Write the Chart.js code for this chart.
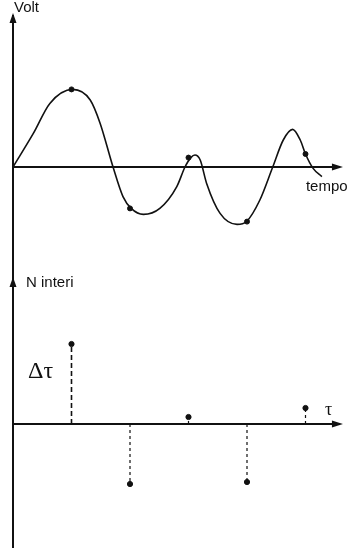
<!DOCTYPE html>
<html>
<head>
<meta charset="utf-8">
<script src="https://cdn.jsdelivr.net/npm/chart.js@4"></script>
<style>
  html, body { margin: 0; padding: 0; background: #fff; }
  #wrap { width: 350px; height: 556px; }
</style>
</head>
<body>
<div id="wrap"><canvas id="segnale" width="350" height="556"></canvas></div>
<script>
// ============================
// Data
// ============================
// continuous signal (tempo, Volt)
const tempo = [0, 0.35, 0.63, 1.02, 1.32, 1.49, 1.71, 1.88, 2.02, 2.23, 2.51, 2.80, 2.94,
               3.04, 3.11, 3.20, 3.31, 3.54, 3.83, 3.99, 4.22, 4.44, 4.62, 4.78, 4.91, 5.00, 5.13, 5.28];
const volt  = [0, 1.69, 3.18, 3.88, 3.35, 2.18, 0, -1.48, -2.07, -2.37, -2.07, -0.98, 0,
               0.47, 0.60, 0.35, -0.82, -2.32, -2.87, -2.73, -1.65, 0, 1.35, 1.88, 1.35, 0.65, -0.07, -0.48];

// sampled points on the curve
const sampleT = [1, 2, 3, 4, 5];
const sampleV = [3.88, -2.07, 0.47, -2.73, 0.65];

// integer counts (stems), same instants
const stemT = [1, 2, 3, 4, 5];
const stemN = [8.0, -6.0, 0.7, -5.8, 1.6];

// axis extents (data units)
const tempoEnd = 5.64;
const voltTop = 7.7;
const nTop = 14.7;
const nBottom = -12.4;

// ============================
// Axes with arrows + labels
// ============================
const axesPlugin = {
  id: "frecce",
  afterDatasetsDraw(chart) {
    const { ctx, scales } = chart;
    const x = scales.x, y = scales.y, y2 = scales.y2;
    const x0 = x.getPixelForValue(0);
    const xEnd = x.getPixelForValue(tempoEnd);
    const yZero = y.getPixelForValue(0);
    const y2Zero = y2.getPixelForValue(0);
    const yTopPx = y.getPixelForValue(voltTop);
    const nTopPx = y2.getPixelForValue(nTop);
    const nBotPx = y2.getPixelForValue(nBottom);

    ctx.save();
    ctx.strokeStyle = "#111";
    ctx.fillStyle = "#111";
    ctx.lineWidth = 2;

    // vertical axis (shared)
    ctx.beginPath();
    ctx.moveTo(x0, yTopPx + 2);
    ctx.lineTo(x0, nBotPx);
    ctx.stroke();

    // horizontal axes
    ctx.beginPath();
    ctx.moveTo(x0, yZero);
    ctx.lineTo(xEnd - 6, yZero);
    ctx.moveTo(x0, y2Zero);
    ctx.lineTo(xEnd - 6, y2Zero);
    ctx.stroke();

    function arrowUp(px, py) {
      ctx.beginPath();
      ctx.moveTo(px, py);
      ctx.lineTo(px - 3.5, py + 10);
      ctx.lineTo(px + 3.5, py + 10);
      ctx.closePath();
      ctx.fill();
    }
    function arrowRight(px, py) {
      ctx.beginPath();
      ctx.moveTo(px, py);
      ctx.lineTo(px - 11, py - 3.5);
      ctx.lineTo(px - 11, py + 3.5);
      ctx.closePath();
      ctx.fill();
    }
    arrowUp(x0, yTopPx);
    arrowUp(x0, nTopPx);
    arrowRight(xEnd, yZero);
    arrowRight(xEnd, y2Zero);

    // labels
    ctx.font = "15px 'Liberation Sans', Arial, sans-serif";
    ctx.textBaseline = "alphabetic";
    ctx.fillText("Volt", x0 + 1, yTopPx - 1);
    ctx.fillText("tempo", xEnd - 37, yZero + 24);
    ctx.fillText("N interi", x0 + 13, nTopPx + 10);

    ctx.font = "24px 'Liberation Serif', 'Times New Roman', serif";
    ctx.fillText("\u0394\u03c4", x0 + 15, y2.getPixelForValue(4.6));
    ctx.font = "18px 'Liberation Serif', 'Times New Roman', serif";
    ctx.fillText("\u03c4", xEnd - 18, y2.getPixelForValue(0.9));
    ctx.restore();
  }
};

// ============================
// Build datasets
// ============================
const datasets = [
  {
    type: "line",
    label: "segnale",
    data: tempo.map((t, i) => ({ x: t, y: volt[i] })),
    borderColor: "#111",
    borderWidth: 1.6,
    cubicInterpolationMode: "monotone",
    pointRadius: 0,
    yAxisID: "y"
  },
  {
    type: "scatter",
    label: "campioni",
    data: sampleT.map((t, i) => ({ x: t, y: sampleV[i] })),
    backgroundColor: "#111",
    borderColor: "#111",
    pointRadius: 2.5,
    yAxisID: "y"
  }
];

// dashed stems
stemT.forEach((t, i) => {
  datasets.push({
    type: "line",
    label: "stem" + i,
    data: [{ x: t, y: 0 }, { x: t, y: stemN[i] }],
    borderColor: "#111",
    borderWidth: i === 0 ? 1.6 : 1.2,
    borderDash: i === 0 ? [5, 3] : [3, 3],
    pointRadius: 0,
    yAxisID: "y2"
  });
});

datasets.push({
  type: "scatter",
  label: "N",
  data: stemT.map((t, i) => ({ x: t, y: stemN[i] })),
  backgroundColor: "#111",
  borderColor: "#111",
  pointRadius: 2.6,
  yAxisID: "y2"
});

// ============================
// Chart
// ============================
new Chart(document.getElementById("segnale").getContext("2d"), {
  data: { datasets },
  options: {
    responsive: false,
    animation: false,
    devicePixelRatio: 1,
    layout: { padding: 0, autoPadding: false },
    plugins: { legend: { display: false }, tooltip: { enabled: false } },
    scales: {
      x: { type: "linear", display: false, min: -13 / 58.5, max: -13 / 58.5 + 350 / 58.5 },
      y: { type: "linear", display: false, min: 8.35 - 27.8, max: 8.35 },
      y2: { type: "linear", display: false, min: 42.4 - 55.6, max: 42.4 }
    }
  },
  plugins: [axesPlugin]
});
</script>
</body>
</html>
